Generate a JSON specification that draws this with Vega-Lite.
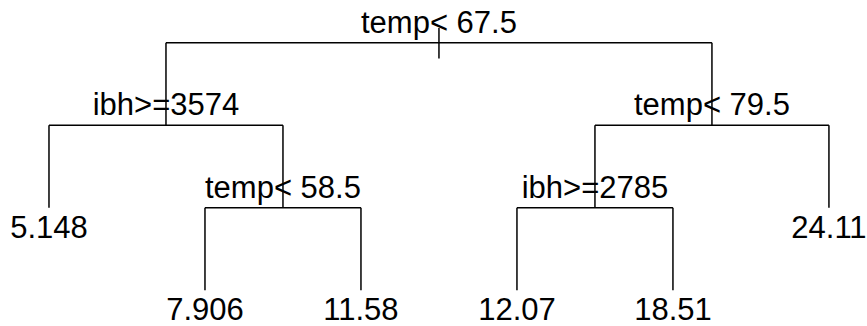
{
  "$schema": "https://vega.github.io/schema/vega-lite/v6.json",
  "width": 867,
  "height": 326,
  "autosize": {"type": "fit", "contains": "padding"},
  "padding": 0,
  "background": "white",
  "config": {"view": {"stroke": null}},
  "datasets": {
    "segments": [
      {"x": 1.75, "x2": 5.25, "y": 0, "y2": 0},
      {"x": 1, "x2": 2.5, "y": 1, "y2": 1},
      {"x": 4.5, "x2": 6, "y": 1, "y2": 1},
      {"x": 2, "x2": 3, "y": 2, "y2": 2},
      {"x": 4, "x2": 5, "y": 2, "y2": 2},
      {"x": 3.5, "x2": 3.5, "y": -0.18, "y2": 0.19},
      {"x": 1.75, "x2": 1.75, "y": 0, "y2": 1},
      {"x": 5.25, "x2": 5.25, "y": 0, "y2": 1},
      {"x": 1, "x2": 1, "y": 1, "y2": 2},
      {"x": 2.5, "x2": 2.5, "y": 1, "y2": 2},
      {"x": 4.5, "x2": 4.5, "y": 1, "y2": 2},
      {"x": 6, "x2": 6, "y": 1, "y2": 2},
      {"x": 2, "x2": 2, "y": 2, "y2": 3},
      {"x": 3, "x2": 3, "y": 2, "y2": 3},
      {"x": 4, "x2": 4, "y": 2, "y2": 3},
      {"x": 5, "x2": 5, "y": 2, "y2": 3}
    ],
    "splits": [
      {"x": 3.5, "y": 0, "label": "temp< 67.5"},
      {"x": 1.75, "y": 1, "label": "ibh>=3574"},
      {"x": 5.25, "y": 1, "label": "temp< 79.5"},
      {"x": 2.5, "y": 2, "label": "temp< 58.5"},
      {"x": 4.5, "y": 2, "label": "ibh>=2785"}
    ],
    "leaves": [
      {"x": 1, "y": 2, "label": "5.148"},
      {"x": 2, "y": 3, "label": "7.906"},
      {"x": 3, "y": 3, "label": "11.58"},
      {"x": 4, "y": 3, "label": "12.07"},
      {"x": 5, "y": 3, "label": "18.51"},
      {"x": 6, "y": 2, "label": "24.11"}
    ]
  },
  "layer": [
    {
      "data": {"name": "segments"},
      "mark": {"type": "rule", "color": "black", "strokeWidth": 1.5},
      "encoding": {
        "x": {"field": "x", "type": "quantitative", "scale": {"domain": [0.686, 6.244], "nice": false, "zero": false}, "axis": null},
        "x2": {"field": "x2"},
        "y": {"field": "y", "type": "quantitative", "scale": {"domain": [-0.518, 3.41], "nice": false, "zero": false, "reverse": true}, "axis": null},
        "y2": {"field": "y2"}
      }
    },
    {
      "data": {"name": "splits"},
      "mark": {"type": "text", "font": "Liberation Sans", "fontSize": 31, "color": "black", "baseline": "alphabetic", "align": "center", "dy": -10},
      "encoding": {
        "x": {"field": "x", "type": "quantitative"},
        "y": {"field": "y", "type": "quantitative"},
        "text": {"field": "label"}
      }
    },
    {
      "data": {"name": "leaves"},
      "mark": {"type": "text", "font": "Liberation Sans", "fontSize": 31, "color": "black", "baseline": "alphabetic", "align": "center", "dy": 30},
      "encoding": {
        "x": {"field": "x", "type": "quantitative"},
        "y": {"field": "y", "type": "quantitative"},
        "text": {"field": "label"}
      }
    }
  ]
}
